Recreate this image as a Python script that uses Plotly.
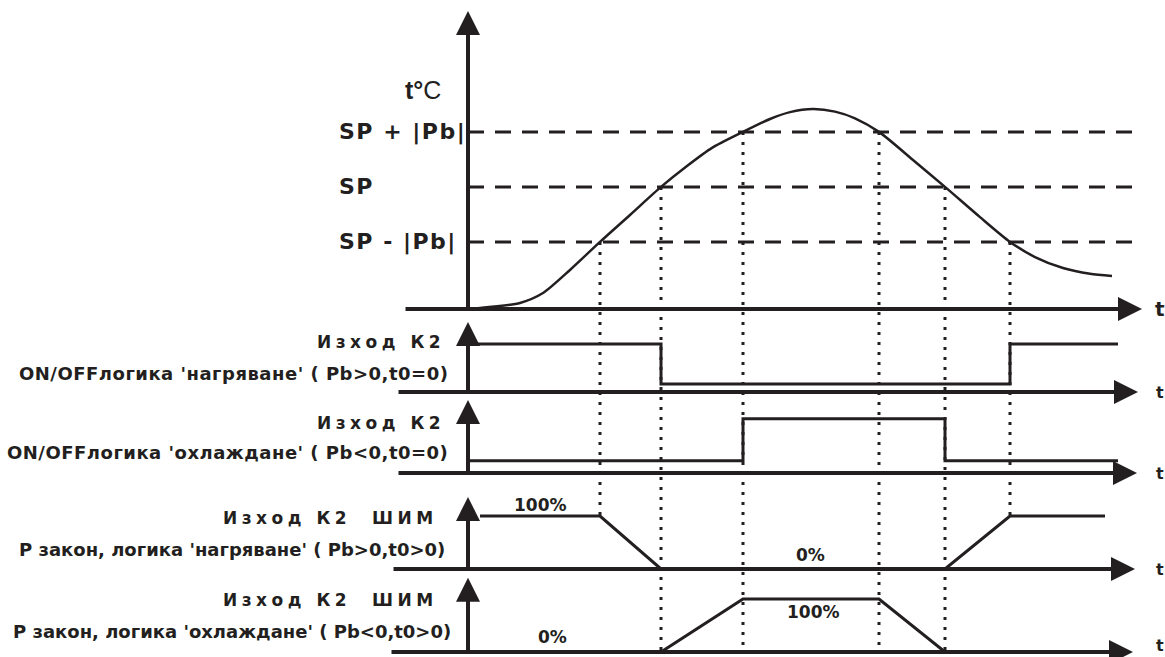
import plotly.graph_objects as go

INK = "#231f20"
W, H = 1165, 657

# ---------------- data ----------------
# instants (time units) where the temperature crosses the thresholds
t_cross = [132, 193, 275, 411, 477, 542]
cross_level = [-1, 0, 1, 1, 0, -1]          # threshold crossed at each instant (units of |Pb| from SP)

# temperature curve: time and temperature (units of |Pb| relative to SP)
curve_t = [1, 19, 52, 75, 102, 132, 162, 193, 219, 244, 275, 302, 322, 345,
           367, 387, 411, 445, 477, 512, 542, 567, 595, 622, 644]
curve_T = [-2.22, -2.19, -2.11, -1.93, -1.51, -1.0, -0.51, 0.0, 0.38, 0.71, 1.0, 1.235, 1.36, 1.416,
           1.369, 1.247, 1.0, 0.49, 0.0, -0.55, -1.0, -1.275, -1.475, -1.58, -1.62]

level_vals = [1, 0, -1]
level_labels = ["SP + |Pb|", "SP", "SP - |Pb|"]
level_end = 674

# ON/OFF outputs (1 = ON, 0 = OFF)
heat_onoff_t = [0, t_cross[1], t_cross[1], t_cross[5], t_cross[5], 650]
heat_onoff_v = [1, 1, 0, 0, 1, 1]
cool_onoff_t = [0, t_cross[2], t_cross[2], t_cross[4], t_cross[4], 650]
cool_onoff_v = [0, 0, 1, 1, 0, 0]
# PWM outputs, P law (%)
heat_pwm_t = [12, t_cross[0], t_cross[1], t_cross[4], t_cross[5], 637]
heat_pwm_v = [100, 100, 0, 0, 100, 100]
cool_pwm_t = [0, t_cross[1], t_cross[2], t_cross[3], t_cross[4], 650]
cool_pwm_v = [0, 0, 100, 100, 0, 0]

panel_titles = ["Изход К2", "Изход К2", "Изход К2\u00a0\u00a0ШИМ", "Изход К2\u00a0\u00a0ШИМ"]
panel_subtitles = ["ON/OFFлогика 'нагряване' ( Pb>0,t0=0)",
                   "ON/OFFлогика 'охлаждане' ( Pb<0,t0=0)",
                   "P закон, логика 'нагряване' ( Pb>0,t0>0)",
                   "P закон, логика 'охлаждане' ( Pb<0,t0>0)"]

# ---------------- layout geometry ----------------
X0 = 468  # pixel column of the time origin
PANELS = [
    dict(row=309, ppu=55.0, top=0,   bot=316, base=-2.22),
    dict(row=392, ppu=40.0, top=316, bot=397, base=-0.2),
    dict(row=473, ppu=42.0, top=397, bot=478, base=-0.29),
    dict(row=569, ppu=0.53, top=478, bot=574, base=0.0),
    dict(row=652, ppu=0.53, top=574, bot=657, base=0.0),
]
V_TIP = [3.2, 1.55, 1.45, 136, 140]
H_AXIS = [(-64, 674), (-71, 670), (-71, 669), (-76, 667), (-78, 665)]


def val_at(p, row):
    return p["base"] + (p["row"] - row) / p["ppu"]


def paper_y(i, v):
    p = PANELS[i]
    row = p["row"] - (v - p["base"]) * p["ppu"]
    return 1 - row / H


def yref(i):
    return "y" if i == 0 else f"y{i+1}"


fig = go.Figure()
layout = dict(
    width=W, height=H, margin=dict(l=0, r=0, t=0, b=0),
    paper_bgcolor="white", plot_bgcolor="rgba(0,0,0,0)", showlegend=False,
    xaxis=dict(range=[-X0, W - X0], domain=[0, 1], visible=False, fixedrange=True),
)
for i, p in enumerate(PANELS):
    key = "yaxis" if i == 0 else f"yaxis{i+1}"
    layout[key] = dict(domain=[1 - p["bot"] / H, 1 - p["top"] / H],
                       range=[val_at(p, p["bot"]), val_at(p, p["top"])],
                       visible=False, fixedrange=True, anchor="x")
fig.update_layout(**layout)

# threshold dashed lines
for lv in level_vals:
    fig.add_trace(go.Scatter(x=[0, level_end], y=[lv, lv], mode="lines", yaxis="y",
                             line=dict(color=INK, width=3, dash="16px,11px"), hoverinfo="skip"))
# temperature curve
fig.add_trace(go.Scatter(x=curve_t, y=curve_T, mode="lines", yaxis="y",
                         line=dict(color=INK, width=2.5, shape="spline", smoothing=0.7), hoverinfo="skip"))
# outputs
for i, (tx, vy) in enumerate([(heat_onoff_t, heat_onoff_v), (cool_onoff_t, cool_onoff_v),
                               (heat_pwm_t, heat_pwm_v), (cool_pwm_t, cool_pwm_v)]):
    fig.add_trace(go.Scatter(x=tx, y=vy, mode="lines", yaxis=yref(i + 1),
                             line=dict(color=INK, width=3), hoverinfo="skip"))

ann = []
shapes = []
# axes with arrows
for i, p in enumerate(PANELS):
    yr = yref(i)
    ann.append(dict(x=0, y=V_TIP[i], ax=0, ay=p["base"], xref="x", yref=yr, axref="x", ayref=yr,
                    showarrow=True, arrowhead=2, arrowsize=1.2, arrowwidth=4, arrowcolor=INK, text=""))
    x0, x1 = H_AXIS[i]
    ann.append(dict(x=x1, y=p["base"], ax=x0, ay=p["base"], xref="x", yref=yr, axref="x", ayref=yr,
                    showarrow=True, arrowhead=2, arrowsize=1.2, arrowwidth=4, arrowcolor=INK, text=""))
    ann.append(dict(x=692, y=p["base"], xref="x", yref=yr, showarrow=False, text="t",
                    yshift=7 if i == 4 else 0, borderpad=0,
                    font=dict(family="DejaVu Sans", size=20 if i == 0 else 16, color=INK, weight="bold")))

# dotted guide lines
DOT_END = [(3, 100), (4, 0), (4, 12), (4, 12), (4, 0), (3, 100)]
for tc, lv, (pe, ve) in zip(t_cross, cross_level, DOT_END):
    shapes.append(dict(type="line", xref="x", yref="paper", x0=tc, x1=tc,
                       y0=paper_y(0, lv), y1=paper_y(pe, ve),
                       line=dict(color=INK, width=3, dash="3px,7px")))

# threshold labels
for lv, lab in zip(level_vals, level_labels):
    ann.append(dict(x=-131, y=lv, xref="x", yref="y", xanchor="left", showarrow=False,
                    text=f'<span style="letter-spacing:1.5px">{lab}</span>',
                    font=dict(family="DejaVu Sans", size=22, color=INK, weight="bold")))
ann.append(dict(x=-45, y=1.76, xref="x", yref="y", showarrow=False, text="<b>t°</b>C",
                font=dict(family="Liberation Sans", size=25, color=INK)))

# panel labels
TITLE_POS = [(-21, 1.05), (-21, 0.90), (-28, 96), (-28, 98)]
SUB_POS = [(-18, 0.275), (-18, 0.21), (-21, 36), (-15, 38)]
SUB_SPACING = [0.5, 0.5, 0.0, 0.0]
for k in range(4):
    yr = yref(k + 1)
    tx, ty = TITLE_POS[k]
    ann.append(dict(x=tx, y=ty, xref="x", yref=yr, xanchor="right", showarrow=False,
                    text=f'<span style="letter-spacing:4.5px">{panel_titles[k]}</span>',
                    font=dict(family="DejaVu Sans", size=17, color=INK, weight="bold")))
    sx, sy = SUB_POS[k]
    ann.append(dict(x=sx, y=sy, xref="x", yref=yr, xanchor="right", showarrow=False,
                    text=f'<span style="letter-spacing:{SUB_SPACING[k]}px">{panel_subtitles[k]}</span>',
                    font=dict(family="DejaVu Sans", size=18, color=INK, weight="bold")))

# percent labels
PCT = [(3, 72, 120, "100%"), (3, 342, 26, "0%"), (4, 345, 75, "100%"), (4, 84, 28, "0%")]
for pi, px, pv, txt in PCT:
    ann.append(dict(x=px, y=pv, xref="x", yref=yref(pi), showarrow=False, text=txt,
                    font=dict(family="DejaVu Sans", size=17, color=INK, weight="bold")))

fig.update_layout(annotations=ann, shapes=shapes)
fig.write_html("out.html", config={"displayModeBar": False},
               post_script="document.body.style.margin='0';document.body.style.overflow='hidden';")
